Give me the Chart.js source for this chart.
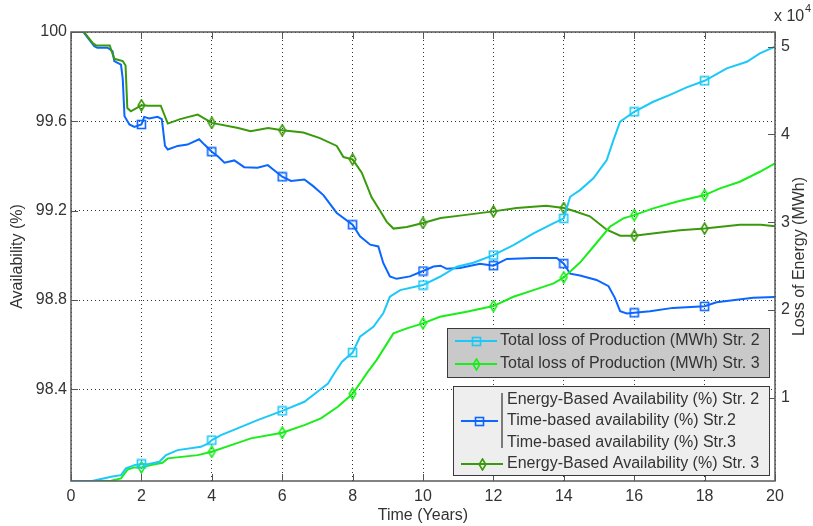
<!DOCTYPE html>
<html>
<head>
<meta charset="utf-8">
<title>Availability and loss of energy</title>
<script src="https://cdn.jsdelivr.net/npm/chart.js@4"></script>
<style>
  html, body { margin: 0; padding: 0; background: #fff; }
  #wrap { position: relative; width: 813px; height: 526px; }
</style>
</head>
<body>
<div id="wrap"><canvas id="chart"></canvas></div>
<script>
// Energy-based availability, string 2 (left axis, %)
const availStr2Years = [0, 0.35, 0.66, 0.75, 1.04, 1.18, 1.23, 1.42, 1.47, 1.52, 1.66, 1.8, 2, 2.08, 2.22, 2.46, 2.58, 2.67, 2.75,
  3.03, 3.31, 3.64, 3.79, 4, 4.17, 4.36, 4.64, 4.92, 5.3, 5.59, 5.78, 6, 6.25, 6.63, 6.88, 7.17, 7.55, 8, 8.21, 8.5, 8.73,
  8.87, 9.06, 9.25, 9.63, 10, 10.3, 10.5, 10.67, 11.05, 11.62, 12, 12.38, 13.13, 13.8, 14, 14.18, 14.46, 14.93, 15.27,
  15.45, 15.6, 15.79, 16, 16.45, 17.1, 18, 18.34, 19.38, 20];
const availStr2 = [100, 100, 99.936, 99.93, 99.93, 99.914, 99.87, 99.854, 99.79, 99.623, 99.586, 99.575, 99.586, 99.62, 99.613,
  99.62, 99.61, 99.49, 99.474, 99.49, 99.496, 99.52, 99.496, 99.464, 99.444, 99.415, 99.425, 99.395, 99.392, 99.404, 99.38,
  99.352, 99.333, 99.34, 99.31, 99.27, 99.19, 99.137, 99.085, 99.048, 99.04, 98.966, 98.906, 98.895, 98.906, 98.93, 98.95,
  98.954, 98.94, 98.944, 98.963, 98.954, 98.984, 98.988, 98.988, 98.963, 98.918, 98.91, 98.89, 98.862, 98.81, 98.75, 98.74,
  98.743, 98.75, 98.765, 98.772, 98.79, 98.81, 98.814];

// Energy-based availability, string 3 (left axis, %)
const availStr3Years = [0, 0.37, 0.62, 0.71, 1.1, 1.23, 1.47, 1.55, 1.6, 1.7, 2, 2.2, 2.55, 2.75, 3.1, 3.6, 4, 4.75, 5.1, 5.6,
  6, 6.6, 7.07, 7.55, 7.74, 8, 8.26, 8.54, 8.78, 8.97, 9.16, 9.54, 10, 10.5, 11.05, 12, 12.66, 13.5, 14, 14.27, 14.74, 15.22,
  15.6, 16, 16.64, 17.3, 18, 19, 19.6, 20];
const availStr3 = [100, 100, 99.95, 99.94, 99.94, 99.88, 99.87, 99.85, 99.66, 99.645, 99.672, 99.67, 99.67, 99.59, 99.61,
  99.63, 99.593, 99.57, 99.556, 99.57, 99.56, 99.55, 99.525, 99.49, 99.44, 99.43, 99.37, 99.26, 99.2, 99.15, 99.12, 99.127,
  99.145, 99.167, 99.178, 99.197, 99.212, 99.222, 99.212, 99.2, 99.175, 99.115, 99.088, 99.088, 99.1, 99.112, 99.12,
  99.137, 99.137, 99.13];

// Total loss of production, string 2 (right axis, MWh)
const lossStr2Years = [0, 0.6, 1.14, 1.42, 1.56, 1.8, 2, 2.18, 2.51, 2.7, 3.03, 3.69, 3.9, 4, 4.26, 4.73, 5.3, 6, 6.63, 7,
  7.3, 7.5, 7.7, 8, 8.21, 8.59, 8.87, 9.06, 9.35, 10, 10.48, 10.96, 11.43, 12, 12.57, 13.14, 13.7, 14, 14.18, 14.46,
  14.84, 15.22, 15.41, 15.6, 16, 16.54, 17, 17.49, 18, 18.63, 19.2, 19.57, 20];
const lossStr2 = [500, 500, 980, 1170, 1940, 2310, 2450, 2400, 2690, 3450, 4020, 4400, 4790, 5160, 5730, 6500, 7440, 8500,
  9530, 10670, 11600, 12900, 14100, 15140, 16940, 18080, 19610, 21500, 22260, 22830, 23780, 24920, 25380, 26250, 27390,
  28730, 29870, 30440, 32900, 33660, 35000, 37080, 39360, 41450, 42590, 43730, 44490, 45370, 46120, 47540, 48290, 49250,
  50000];

// Total loss of production, string 3 (right axis, MWh)
const lossStr3Years = [0, 1.14, 1.42, 1.61, 1.8, 2, 2.27, 2.6, 2.75, 3.6, 4, 4.55, 5.11, 6, 6.63, 7.1, 7.58, 8, 8.24, 8.4,
  8.68, 9.16, 9.54, 10, 10.48, 11.24, 12, 12.57, 13.14, 13.71, 14, 14.46, 14.84, 15.31, 15.69, 16, 16.54, 17.2, 18, 18.44,
  19, 19.57, 20];
const lossStr3 = [500, 520, 800, 1820, 2050, 2050, 2310, 2580, 3080, 3450, 3830, 4590, 5360, 6000, 6870, 7640, 8960, 10450,
  11810, 12770, 14280, 17320, 17900, 18470, 19220, 19790, 20440, 21500, 22260, 23030, 23710, 25400, 27200, 29480, 30440,
  30810, 31580, 32330, 33090, 33860, 34610, 35750, 36710];

const markerYears = [2, 4, 6, 8, 10, 12, 14, 16, 18];
const xTicks = [0, 2, 4, 6, 8, 10, 12, 14, 16, 18, 20];
const leftTicks = [98.4, 98.8, 99.2, 99.6, 100];
const rightTicks = [10000, 20000, 30000, 40000, 50000];
const rightTickLabels = ['1', '2', '3', '4', '5'];

const FONT = '"Liberation Sans", Arial, Helvetica, sans-serif';
const TEXT = '#333';
const C_BLUE = '#0a66ff';
const C_DKGREEN = '#3a9a0c';
const C_CYAN = '#1cc8f8';
const C_GREEN = '#1aee1a';

// small hollow marker glyphs, drawn once and reused as point styles
function squareMarker(color) {
  const c = document.createElement('canvas');
  c.width = 11; c.height = 11;
  const g = c.getContext('2d');
  g.strokeStyle = color; g.lineWidth = 1.6;
  g.strokeRect(1.5, 1.5, 8, 8);
  return c;
}
function diamondMarker(color) {
  const c = document.createElement('canvas');
  c.width = 9; c.height = 13;
  const g = c.getContext('2d');
  g.strokeStyle = color; g.lineWidth = 1.6;
  g.beginPath();
  g.moveTo(4.5, 1); g.lineTo(7.8, 6.5); g.lineTo(4.5, 12); g.lineTo(1.2, 6.5); g.closePath();
  g.stroke();
  return c;
}
const mkBlue = squareMarker(C_BLUE);
const mkCyan = squareMarker(C_CYAN);
const mkDkGreen = diamondMarker(C_DKGREEN);
const mkGreen = diamondMarker(C_GREEN);

function series(label, xs, ys, color, marker, axis) {
  return {
    label,
    data: xs.map((x, i) => ({ x, y: ys[i] })),
    yAxisID: axis,
    borderColor: color,
    backgroundColor: color,
    borderWidth: 2,
    tension: 0,
    pointStyle: marker,
    pointRadius: c => (c.raw && markerYears.includes(c.raw.x) ? 5 : 0),
    pointHoverRadius: 0,
  };
}

// axes box, inward tick marks, axis titles and the two legend boxes
const decorations = {
  id: 'decorations',
  afterDatasetsDraw(chart) {
    const { ctx, chartArea: a, scales } = chart;
    ctx.save();
    ctx.strokeStyle = '#555';
    ctx.lineWidth = 1;
    ctx.beginPath();
    xTicks.forEach(v => {
      const p = Math.round(scales.x.getPixelForValue(v)) + 0.5;
      ctx.moveTo(p, a.bottom); ctx.lineTo(p, a.bottom - 7);
      ctx.moveTo(p, a.top); ctx.lineTo(p, a.top + 7);
    });
    leftTicks.forEach(v => {
      const p = Math.round(scales.y.getPixelForValue(v)) + 0.5;
      ctx.moveTo(a.left, p); ctx.lineTo(a.left + 7, p);
    });
    rightTicks.forEach(v => {
      const p = Math.round(scales.yR.getPixelForValue(v)) + 0.5;
      ctx.moveTo(a.right, p); ctx.lineTo(a.right - 7, p);
    });
    ctx.stroke();
    ctx.lineWidth = 1.5;
    ctx.strokeStyle = '#5a5a5a';
    ctx.strokeRect(a.left, a.top, a.right - a.left, a.bottom - a.top);
    ctx.restore();
  },
  afterDraw(chart) {
    const { ctx, chartArea: a } = chart;
    const midY = (a.top + a.bottom) / 2;
    ctx.save();
    ctx.fillStyle = TEXT;
    ctx.font = `16px ${FONT}`;
    ctx.textAlign = 'center';
    ctx.textBaseline = 'middle';
    ctx.fillText('Time (Years)', (a.left + a.right) / 2, 516);

    ctx.save();
    ctx.translate(18, midY);
    ctx.rotate(-Math.PI / 2);
    ctx.fillText('Availability (%)', 0, 0);
    ctx.restore();

    ctx.save();
    ctx.translate(800, midY);
    ctx.rotate(-Math.PI / 2);
    ctx.fillText('Loss of Energy (MWh)', 0, 0);
    ctx.restore();

    // exponent of the right axis
    ctx.textAlign = 'left';
    ctx.fillText('x 10', 774, 17);
    ctx.font = `11px ${FONT}`;
    ctx.fillText('4', 805, 9);

    // legend for the loss curves
    ctx.fillStyle = '#c9c9c9';
    ctx.fillRect(447, 328, 323, 50);
    ctx.strokeStyle = '#3a3a3a';
    ctx.lineWidth = 1;
    ctx.strokeRect(447.5, 328.5, 322, 49);
    drawEntry(ctx, 455, 497, 341, C_CYAN, mkCyan);
    drawEntry(ctx, 455, 497, 364, C_GREEN, mkGreen);
    ctx.fillStyle = TEXT;
    ctx.font = `16px ${FONT}`;
    ctx.textBaseline = 'middle';
    ctx.fillText('Total loss of Production (MWh) Str. 2', 500, 341);
    ctx.fillText('Total loss of Production (MWh) Str. 3', 500, 364);

    // legend for the availability curves
    ctx.fillStyle = '#eeeeee';
    ctx.fillRect(453, 386, 317, 90);
    ctx.strokeStyle = '#3a3a3a';
    ctx.strokeRect(453.5, 386.5, 316, 89);
    drawEntry(ctx, 461, 498, 421, C_BLUE, mkBlue);
    drawEntry(ctx, 461, 503, 464, C_DKGREEN, mkDkGreen);
    ctx.strokeStyle = '#555';
    ctx.lineWidth = 1.5;
    ctx.beginPath();
    ctx.moveTo(502, 393); ctx.lineTo(502, 448);
    ctx.stroke();
    ctx.fillStyle = TEXT;
    ctx.fillText('Energy-Based Availability (%) Str. 2', 507, 400);
    ctx.fillText('Time-based availability (%) Str.2', 507, 421);
    ctx.fillText('Time-based availability (%) Str.3', 507, 443);
    ctx.fillText('Energy-Based Availability (%) Str. 3', 507, 464);
    ctx.restore();
  }
};

function drawEntry(ctx, x0, x1, y, color, marker) {
  ctx.save();
  ctx.strokeStyle = color;
  ctx.lineWidth = 2;
  ctx.beginPath();
  ctx.moveTo(x0, y); ctx.lineTo(x1, y);
  ctx.stroke();
  ctx.drawImage(marker, Math.round((x0 + x1) / 2 - marker.width / 2), Math.round(y - marker.height / 2));
  ctx.restore();
}

Chart.defaults.font.family = FONT;
Chart.defaults.font.size = 16;
Chart.defaults.color = TEXT;

const dotted = { display: false, dash: [1, 3] };

new Chart(document.getElementById('chart'), {
  type: 'line',
  data: {
    datasets: [
      series('Total loss of Production (MWh) Str. 2', lossStr2Years, lossStr2, C_CYAN, mkCyan, 'yR'),
      series('Total loss of Production (MWh) Str. 3', lossStr3Years, lossStr3, C_GREEN, mkGreen, 'yR'),
      series('Energy-Based Availability (%) Str. 3', availStr3Years, availStr3, C_DKGREEN, mkDkGreen, 'y'),
      series('Energy-Based Availability (%) Str. 2', availStr2Years, availStr2, C_BLUE, mkBlue, 'y'),
    ]
  },
  options: {
    responsive: true,
    maintainAspectRatio: false,
    animation: false,
    layout: { padding: { top: 32, left: 0, right: 0, bottom: 0 } },
    plugins: {
      legend: { display: false },
      tooltip: { enabled: false },
    },
    scales: {
      x: {
        type: 'linear',
        min: 0,
        max: 20,
        afterBuildTicks: s => { s.ticks = xTicks.map(v => ({ value: v })); },
        afterFit: s => { s.height = 45; },
        ticks: { padding: 6, maxRotation: 0 },
        grid: { color: '#333', lineWidth: 1, drawTicks: false },
        border: dotted,
      },
      y: {
        position: 'left',
        min: 97.99,
        max: 100,
        afterBuildTicks: s => { s.ticks = leftTicks.map(v => ({ value: v })); },
        afterFit: s => { s.width = 71; },
        ticks: { padding: 4, callback: v => String(v) },
        grid: { color: '#333', lineWidth: 1, drawTicks: false },
        border: dotted,
      },
      yR: {
        position: 'right',
        min: 500,
        max: 51680,
        afterBuildTicks: s => { s.ticks = rightTicks.map(v => ({ value: v })); },
        afterFit: s => { s.width = 38; },
        ticks: { padding: 6, callback: v => rightTickLabels[rightTicks.indexOf(v)] },
        grid: { drawOnChartArea: false, drawTicks: false },
        border: { display: false },
      },
    }
  },
  plugins: [decorations]
});
</script>
</body>
</html>
